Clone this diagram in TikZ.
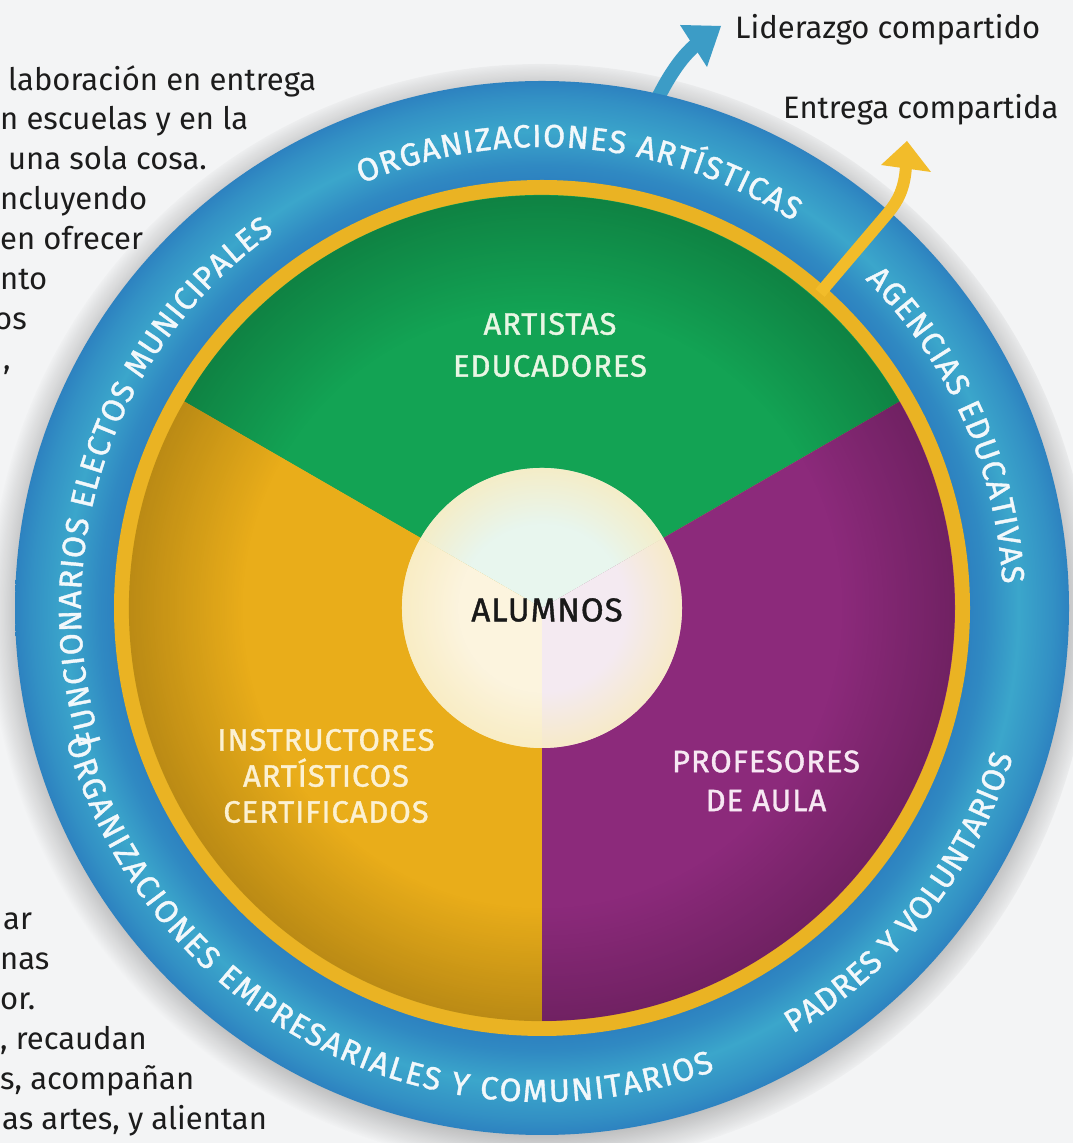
\documentclass[tikz,border=0pt]{standalone}
\usepackage{fontspec}
\setmainfont{Fira Sans}
\newfontfamily\lblfam[LetterSpace=3,FakeBold=1.2]{Fira Sans}
\newfontfamily\ringfam[FakeBold=1.2]{Fira Sans}
\usetikzlibrary{decorations.text,fadings}

\definecolor{bg}{HTML}{F3F4F5}
\definecolor{ringdark}{HTML}{2D82C0}
\definecolor{ringlight}{HTML}{3BA6CB}
\definecolor{ringyel}{HTML}{EAB323}
\definecolor{secgreen}{HTML}{13A354}
\definecolor{secyel}{HTML}{E9AD1A}
\definecolor{secpur}{HTML}{8C2A7B}
\definecolor{arrblue}{HTML}{3C9CC6}
\definecolor{arryel}{HTML}{F2BC2A}
\definecolor{ringtxt}{HTML}{F2F8FB}
\definecolor{txtdark}{HTML}{1C1C1C}
\definecolor{lblgreen}{HTML}{E9F6E4}
\definecolor{lblyel}{HTML}{FCF1D2}
\definecolor{lblpur}{HTML}{F7E8F3}
\definecolor{cmint}{HTML}{E8F6EE}
\definecolor{ccream}{HTML}{FCF4DE}
\definecolor{clav}{HTML}{F4EAF1}
\definecolor{cglow}{HTML}{F8EBBE}

\pgfdeclareradialshading{ringshade}{\pgfpointorigin}{color(0bp)=(ringdark); color(20.3bp)=(ringdark); color(21bp)=(ringdark!80!ringlight); color(22.6bp)=(ringlight); color(24.2bp)=(ringdark!60!ringlight); color(25bp)=(ringdark); color(50bp)=(ringdark)}
\pgfdeclareradialshading{edgefadeshade}{\pgfpointorigin}{color(0bp)=(black); color(18bp)=(black); color(25bp)=(white); color(50bp)=(white)}
\pgfdeclarefading{edgefade}{\pgfuseshading{edgefadeshade}}
\pgfdeclareradialshading{glowfadeshade}{\pgfpointorigin}{color(0bp)=(black); color(15bp)=(black); color(25bp)=(white); color(50bp)=(white)}
\pgfdeclarefading{glowfade}{\pgfuseshading{glowfadeshade}}
\pgfdeclareradialshading{shadowfadeshade}{\pgfpointorigin}{color(0bp)=(white); color(23.5bp)=(white); color(25bp)=(black); color(50bp)=(black)}
\pgfdeclarefading{shadowfade}{\pgfuseshading{shadowfadeshade}}

\newcommand\ringfont{\ringfam\fontsize{32}{36}\selectfont}

\tikzset{
  bodytxt/.style={font=\fontsize{31}{40}\selectfont, text=txtdark, anchor=base west, inner sep=0pt},
  lbl/.style={align=center, inner sep=0pt},
  ringtext/.style={decorate, decoration={text along path, text={|\ringfont|#1}, text align={fit to path}, text color=ringtxt}},
}

\begin{document}
\begin{tikzpicture}[x=1pt,y=1pt]
\useasboundingbox (0,0) rectangle (1073,1143);
\fill[bg] (0,0) rectangle (1073,1143);
\coordinate (C) at (542,535);

% body text, top left
\node[bodytxt] (t1) at (8,1052) {laboración en entrega};
\node[bodytxt] (t2) at (0,1013) {n escuelas y en la};
\node[bodytxt] (t3) at (8,973) {una sola cosa.};
\node[bodytxt] (t4) at (0,933) {ncluyendo};
\node[bodytxt] (t5) at (0,893) {en ofrecer};
\node[bodytxt] (t6) at (0,853) {nto};
\node[bodytxt] (t7) at (-6,813) {os};
\node[bodytxt] (t8) at (3,773) {,};
% body text, bottom left
\node[bodytxt] (b1) at (3,213) {ar};
\node[bodytxt] (b2) at (0,173) {nas};
\node[bodytxt] (b3) at (0,133) {or.};
\node[bodytxt] (b4) at (0,93) {, recaudan};
\node[bodytxt] (b5) at (0,53) {s, acompañan};
\node[bodytxt] (b6) at (2,13) {as artes, y alientan};
% top right
\node[bodytxt] (lid) at (735,1104) {Liderazgo compartido};
\node[bodytxt] (ent) at (783,1024) {Entrega compartida};

% shadow of disk
\fill[black, fill opacity=0.22, path fading=shadowfade] ([yshift=-5]C) circle[radius=552];

% blue arrow (behind ring)
\coordinate (lb0) at (650,1028);
\coordinate (lb1) at (698,1100);
\draw[arrblue, line width=14pt] (lb0) .. controls (664,1060) and (680,1086) .. (lb1);
\fill[arrblue] (680,1118) -- (721,1117) -- (707,1076) -- cycle;

% blue ring
\shade[shading=ringshade] (C) circle[radius=527];
% yellow ring
\fill[ringyel] (C) circle[radius=428];
% sectors
\fill[secgreen] (C) -- ++(30:413) arc[start angle=30, end angle=150, radius=413] -- cycle;
\fill[secyel] (C) -- ++(150:413) arc[start angle=150, end angle=270, radius=413] -- cycle;
\fill[secpur] (C) -- ++(270:413) arc[start angle=270, end angle=390, radius=413] -- cycle;
\fill[black, fill opacity=0.2, path fading=edgefade] (C) circle[radius=413];

% centre circle
\fill[cmint] (C) -- ++(30:140) arc[start angle=30, end angle=150, radius=140] -- cycle;
\fill[ccream] (C) -- ++(150:140) arc[start angle=150, end angle=270, radius=140] -- cycle;
\fill[clav] (C) -- ++(270:140) arc[start angle=270, end angle=390, radius=140] -- cycle;
\fill[cglow, fill opacity=0.8, path fading=glowfade] (C) circle[radius=140];

% labels
\node[font=\lblfam\fontsize{33}{40}\selectfont, text=black!90, inner sep=0pt] (alumnos) at (547,533) {ALUMNOS};
\node[lbl, font=\lblfam\fontsize{31}{42}\selectfont, text=lblgreen] (artistas) at (550,798) {ARTISTAS\\EDUCADORES};
\node[lbl, font=\lblfam\fontsize{31}{36}\selectfont, text=lblyel] (instr) at (326,367) {INSTRUCTORES\\ARTÍSTICOS\\CERTIFICADOS};
\node[lbl, font=\lblfam\fontsize{31}{39}\selectfont, text=lblpur] (prof) at (766,362) {PROFESORES\\DE AULA};

% ring texts
\path[ringtext={ORGANIZACIONES ARTÍSTICAS}] (C) ++(113:461) arc[start angle=113, end angle=57, radius=461];
\path[ringtext={AGENCIAS EDUCATIVAS}] (C) ++(45.5:461) arc[start angle=45.5, end angle=3, radius=461];
\path[ringtext={FUNCIONARIOS ELECTOS MUNICIPALES}] (C) ++(197:461) arc[start angle=197, end angle=125.5, radius=461];
\path[ringtext={ORGANIZACIONES EMPRESARIALES Y COMUNITARIOS}] (C) ++(195.5:494) arc[start angle=195.5, end angle=290.5, radius=494];
\path[ringtext={PADRES Y VOLUNTARIOS}] (C) ++(-59.5:494) arc[start angle=-59.5, end angle=-17.5, radius=494];

% yellow arrow (on ring)
\coordinate (ya0) at (820,850);
\coordinate (ya1) at (888,930);
\coordinate (ya2) at (906,978);
\draw[arryel, line width=12pt] (ya0) -- (ya1) .. controls (898,942) and (905,955) .. (ya2);
\fill[arryel] (881,978) -- (907,1002) -- (931,971) -- cycle;
\end{tikzpicture}
\end{document}
